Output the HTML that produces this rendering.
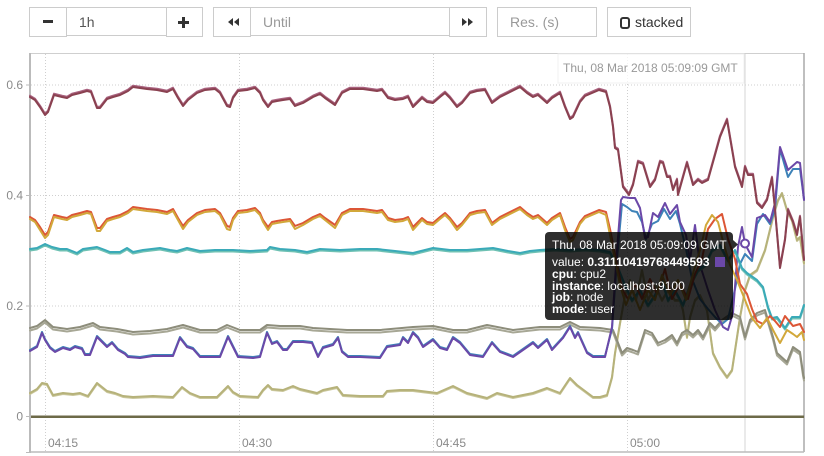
<!DOCTYPE html>
<html><head><meta charset="utf-8">
<style>
html,body{margin:0;padding:0;background:#fff;}
body{width:824px;height:456px;position:relative;overflow:hidden;font-family:"Liberation Sans",Arial,sans-serif;}
.b{position:absolute;top:7px;height:30px;border:1px solid #ccc;box-sizing:border-box;background:#fff;}
.t{position:absolute;font-size:14px;line-height:16px;top:14px;white-space:nowrap;}
#tip{position:absolute;left:545px;top:232px;width:188px;height:88px;border-radius:4px;background:rgba(0,0,0,0.82);color:#fff;font-size:12px;}
#tip div{position:absolute;left:7px;line-height:12px;white-space:nowrap;}
</style></head><body>

<div class="b" style="left:29px;width:38px;"></div>
<div style="position:absolute;left:43px;top:20px;width:10px;height:3px;background:#333;"></div>
<div class="b" style="left:66px;width:101px;height:29px;"></div>
<div class="t" style="left:79px;color:#555;">1h</div>
<div class="b" style="left:166px;width:37px;"></div>
<div style="position:absolute;left:178px;top:20.5px;width:11px;height:3px;background:#333;"></div>
<div style="position:absolute;left:182px;top:16.5px;width:3px;height:11px;background:#333;"></div>

<div class="b" style="left:213px;width:38px;"></div>
<div class="b" style="left:250px;width:200px;height:29px;"></div>
<div class="t" style="left:263px;color:#999;">Until</div>
<div class="b" style="left:449px;width:38px;"></div>
<div class="b" style="left:497px;width:100px;"></div>
<div class="t" style="left:510px;color:#999;">Res. (s)</div>
<div class="b" style="left:607px;width:84px;"></div>
<div style="position:absolute;left:620px;top:17px;width:6px;height:8px;border:2px solid #333;border-radius:3px;"></div>
<div class="t" style="left:635px;color:#333;">stacked</div>

<svg width="824" height="456" style="position:absolute;left:0;top:0;" xmlns="http://www.w3.org/2000/svg">
<!-- button icons -->
<polygon points="233,18 233,26 228,22" fill="#333"/><polygon points="239,18 239,26 234,22" fill="#333"/>
<polygon points="462,18 462,26 467,22" fill="#333"/><polygon points="468,18 468,26 473,22" fill="#333"/>

<!-- grid -->
<g stroke="#cfcfcf" stroke-width="1" stroke-dasharray="1,2">
<line x1="31" y1="85" x2="804" y2="85"/>
<line x1="31" y1="195.5" x2="804" y2="195.5"/>
<line x1="31" y1="306" x2="804" y2="306"/>
<line x1="45.5" y1="54" x2="45.5" y2="452"/>
<line x1="239.5" y1="54" x2="239.5" y2="452"/>
<line x1="433.5" y1="54" x2="433.5" y2="452"/>
<line x1="627.5" y1="54" x2="627.5" y2="452"/>
</g>
<line x1="745" y1="54" x2="745" y2="452" stroke="#d6d6d6" stroke-width="1"/>
<!-- frame -->
<line x1="30" y1="53.5" x2="804" y2="53.5" stroke="#cfcfcf" stroke-width="1"/>
<line x1="804" y1="53" x2="804" y2="452" stroke="#aaa" stroke-width="1.5"/>
<line x1="30" y1="452" x2="804" y2="452" stroke="#bbb" stroke-width="1.5"/>
<line x1="30" y1="53" x2="30" y2="453" stroke="#bbb" stroke-width="2"/>
<g stroke="#bbb" stroke-width="1">
<line x1="26" y1="85" x2="30" y2="85"/><line x1="26" y1="195.5" x2="30" y2="195.5"/>
<line x1="26" y1="306" x2="30" y2="306"/><line x1="26" y1="416.5" x2="30" y2="416.5"/>
<line x1="26" y1="452.5" x2="30" y2="452.5"/>
</g>
<g font-family="Liberation Sans, Arial, sans-serif" font-size="12" fill="#8a8a8a">
<text x="23" y="89" text-anchor="end">0.6</text>
<text x="23" y="199.5" text-anchor="end">0.4</text>
<text x="23" y="310" text-anchor="end">0.2</text>
<text x="23" y="420.5" text-anchor="end">0</text>
<text x="48" y="447">04:15</text>
<text x="242" y="447">04:30</text>
<text x="436" y="447">04:45</text>
<text x="630" y="447">05:00</text>
</g>

<defs>
<polyline id="mar" points="30,97 35,100 40,107 45,115 48,112 54,95 62,97 67,98 72,95 80,93 87,91 91,92 97,108 100,108 107,99 113,97 120,95 128,91 133,87 140,88 147,89 157,90 167,92 173,89 178,98 183,106 188,100 197,93 205,90 215,89 220,93 227,106 230,107 233,98 238,91 247,90 255,88 260,93 263,100 268,107 272,102 277,101 283,100 290,99 295,106 303,103 313,97 320,94 325,98 335,105 342,93 350,89 363,89 377,91 382,90 388,98 395,100 403,99 408,97 413,107 422,98 427,102 433,103 440,97 445,93 450,98 457,107 462,103 470,93 477,91 485,90 492,103 500,97 510,92 520,87 527,93 533,97 538,95 547,103 552,98 560,93 565,107 570,119 573,117 580,102 585,96 592,93 599,90 606,92 610,107 613,127 615,148 618,150 623,187 629,195 633,185 638,162 643,164 650,187 655,180 660,162 663,163 667,177 670,177 673,190 677,180 678,195 687,163 693,185 698,180 702,183 708,180 715,155 720,137 727,120 735,167 742,187 745,167 748,175 753,175 757,203 762,208 767,200 772,178 775,210 780,268 785,240 788,210 793,222 797,235 800,217 803,250 804,260"/>
<polyline id="org" points="30,218 35,221 40,228 45,236 48,233 54,216 62,218 67,219 72,216 80,214 87,212 91,213 97,229 100,229 107,220 113,218 120,216 128,212 133,208 140,209 147,210 157,211 167,213 173,210 178,219 183,227 188,221 197,214 205,211 215,210 220,214 227,227 230,228 233,219 238,212 247,211 255,209 260,214 263,221 268,228 272,223 277,222 283,221 290,220 295,227 303,224 313,218 320,215 325,219 335,226 342,214 350,210 363,210 377,212 382,211 388,219 395,221 403,220 408,218 413,228 422,219 427,223 433,224 440,218 445,214 450,219 457,228 462,224 470,214 477,212 485,211 492,224 500,218 510,213 520,208 527,214 533,218 538,216 547,224 552,219 560,214 565,228 570,240 573,238 580,223 585,217 592,214 599,211 606,213 610,230 614,250 618,270 622,290 628,300 635,285 642,300 650,280 657,295 665,270 672,300 680,285 688,300 695,275 702,260 708,230 715,220 722,215 728,240 735,260 740,285 747,295 752,310 757,322 763,325 770,317 775,322 780,328 785,317 793,327 800,325 804,333"/>
<polyline id="gld" points="30,219 35,222 40,230 45,238 48,235 54,217 62,219 67,220 72,217 80,215 87,213 91,214 97,231 100,231 107,221 113,219 120,217 128,213 133,209 140,210 147,211 157,212 167,214 173,211 178,220 183,229 188,222 197,215 205,212 215,211 220,215 227,229 230,230 233,220 238,213 247,212 255,210 260,215 263,222 268,230 272,224 277,223 283,222 290,221 295,229 303,225 313,219 320,216 325,220 335,228 342,215 350,211 363,211 377,213 382,212 388,220 395,222 403,221 408,219 413,230 422,220 427,224 433,225 440,219 445,215 450,220 457,230 462,225 470,215 477,213 485,212 492,225 500,219 510,214 520,209 527,215 533,219 538,217 547,225 552,220 560,215 565,230 570,242 573,240 580,224 585,218 592,215 599,212 606,215 610,235 615,260 620,285 626,305 632,290 640,310 648,290 655,300 662,275 670,295 678,280 686,300 694,270 700,250 706,225 712,215 718,222 724,245 730,265 737,280 745,300 752,318 760,328 767,318 773,330 780,343 787,330 793,334 797,337 802,332 804,340"/>
<polyline id="tea" points="30,249 37,248 45,244 52,247 60,249 67,249 77,253 83,249 90,248 97,247 105,250 110,252 120,252 127,248 133,252 143,250 160,248 170,250 177,251 187,248 200,251 215,250 233,250 250,251 267,250 270,247 280,249 295,250 307,252 320,249 340,250 360,249 377,249 395,251 413,253 433,248 450,250 467,250 480,249 493,248 508,251 520,253 530,251 540,250 555,249 570,250 585,249 600,250 610,252 617,265 625,285 632,300 640,290 648,305 655,295 662,280 668,300 675,290 683,305 690,285 698,270 705,265 712,250 720,245 728,260 735,250 742,268 747,273 757,280 763,287 768,307 772,318 777,317 785,328 792,317 800,317 804,305"/>
<polyline id="pur" points="30,351 37,347 42,333 45,340 50,348 55,352 63,348 70,350 75,347 82,349 85,355 90,355 97,337 102,342 107,347 112,343 118,350 125,354 128,357 140,358 153,356 173,356 180,338 187,347 193,349 200,357 213,357 220,357 228,337 233,347 238,357 253,358 260,357 267,333 272,344 277,342 283,350 287,350 293,342 303,342 312,343 318,357 323,348 333,345 338,338 342,352 348,357 360,357 380,358 387,347 400,345 403,338 408,343 413,333 418,338 423,347 433,340 440,348 447,350 453,338 460,343 470,355 483,357 492,343 500,352 513,357 523,350 533,343 538,348 547,340 552,350 563,338 570,327 575,338 578,333 587,353 593,357 605,357 612,327 617,250 621,200 623,197 630,198 635,198 640,208 645,238 648,237 653,213 658,217 665,203 670,214 677,205 680,222 686,235 690,260 695,225 700,265 708,290 715,310 723,327 728,330 733,313 738,247 742,227 745,244 752,257 757,218 765,215 770,222 775,203 780,147 788,170 797,162 800,163 804,200"/>
<polyline id="blu" points="30,351 37,347 42,333 45,340 50,348 55,352 63,348 70,350 75,347 82,349 85,355 90,355 97,337 102,342 107,347 112,343 118,350 125,354 128,357 140,358 153,356 173,356 180,338 187,347 193,349 200,357 213,357 220,357 228,337 233,347 238,357 253,358 260,357 267,333 272,344 277,342 283,350 287,350 293,342 303,342 312,343 318,357 323,348 333,345 338,338 342,352 348,357 360,357 380,358 387,347 400,345 403,338 408,343 413,333 418,338 423,347 433,340 440,348 447,350 453,338 460,343 470,355 483,357 492,343 500,352 513,357 523,350 533,343 538,348 547,340 552,350 563,338 570,327 575,338 578,333 587,353 593,357 605,357 612,330 617,260 622,205 627,208 632,212 637,213 642,223 646,240 652,225 658,222 664,210 670,220 676,212 680,225 686,250 692,280 700,300 708,310 715,318 722,325 728,320 735,290 740,265 745,255 752,262 757,225 763,215 770,225 775,210 780,150 788,178 793,170 800,170 804,200"/>
<polyline id="gry" points="30,328 37,326 45,320 53,327 60,328 67,329 80,327 93,323 100,327 117,329 133,332 150,331 167,329 183,325 200,330 217,330 227,325 240,330 260,330 267,325 280,326 300,326 313,328 347,330 380,330 413,327 433,326 453,330 467,330 487,325 513,330 540,327 560,327 570,322 580,327 600,328 613,330 622,353 627,348 633,350 638,352 645,330 652,333 658,343 665,340 672,335 677,343 682,333 687,330 693,335 698,330 703,337 710,323 715,328 722,320 732,313 740,317 745,337 750,320 757,313 765,310 773,337 777,353 787,362 793,347 800,352 803,373 804,378"/>
<polyline id="kha" points="30,393 37,389 42,383 47,384 53,395 63,393 73,394 80,393 88,396 97,383 107,391 115,393 123,396 133,397 153,396 173,397 182,387 190,393 200,397 217,397 228,386 233,392 240,396 258,397 263,390 268,385 272,389 283,390 293,386 300,389 317,393 323,390 337,387 343,395 360,396 383,396 387,391 400,390 413,390 437,393 453,386 467,393 487,398 497,393 513,397 533,393 547,388 560,393 570,378 577,385 593,397 600,397 607,395 612,377 615,353 620,323 625,295 630,280 636,300 642,270 648,300 655,285 662,300 668,290 675,300 680,300 683,310 687,337 690,317 695,300 700,295 707,310 713,353 720,367 727,377 732,370 737,337 740,317 745,290 750,275 757,270 765,250 773,217 778,200 782,193 787,210 792,220 797,240 800,237 804,263"/>
</defs>

<g fill="none" stroke-width="2" stroke-linejoin="round" stroke-linecap="round">
<use href="#kha" stroke="#cac79c" transform="translate(0,1)"/>
<use href="#kha" stroke="#b6b27a"/>
<use href="#gry" stroke="#a7a795" transform="translate(0,2.5)"/>
<use href="#gry" stroke="#8d8d7b"/>
<use href="#blu" stroke="#3d82b8" transform="translate(0,-1)"/>
<use href="#pur" stroke="#6b48a8"/>
<use href="#tea" stroke="#6fc1b3" transform="translate(0,1.5)"/>
<use href="#tea" stroke="#3aaab8"/>
<use href="#org" stroke="#dc5636" transform="translate(0,-1)"/>
<use href="#gld" stroke="#d2a83a"/>
<use href="#mar" stroke="#a9627f" transform="translate(0,-1.3)"/>
<use href="#mar" stroke="#8a4150"/>
</g>
<line x1="31" y1="416.7" x2="804" y2="416.7" stroke="#6d6a48" stroke-width="2.5"/>

<!-- hover label -->
<rect x="558" y="54" width="186" height="29" fill="rgba(255,255,255,0.75)" stroke="#f0f0f0" stroke-width="1"/>
<text x="563" y="72" font-family="Liberation Sans, Arial, sans-serif" font-size="12" fill="#999">Thu, 08 Mar 2018 05:09:09 GMT</text>
<circle cx="745" cy="243.5" r="4" fill="#fff" stroke="#6b48a8" stroke-width="2"/>
<polygon points="733,240 733,249 738,244.5" fill="rgba(0,0,0,0.82)"/>
</svg>

<div id="tip">
<div style="top:7px;">Thu, 08 Mar 2018 05:09:09 GMT</div>
<div style="top:24px;">value: <b>0.31110419768449593</b> <span style="display:inline-block;width:10px;height:10px;background:#6b48a8;vertical-align:-1px;margin-left:2px;"></span></div>
<div style="top:36px;"><b>cpu</b>: cpu2</div>
<div style="top:47.5px;"><b>instance</b>: localhost:9100</div>
<div style="top:59px;"><b>job</b>: node</div>
<div style="top:70.5px;"><b>mode</b>: user</div>
</div>

</body></html>
